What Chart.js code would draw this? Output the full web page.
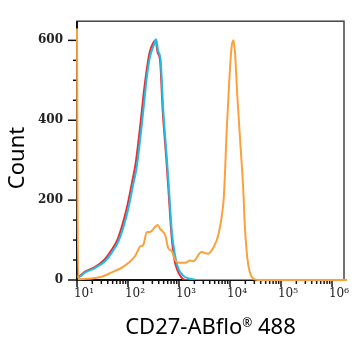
<!DOCTYPE html>
<html>
<head>
<meta charset="utf-8">
<script src="https://cdn.jsdelivr.net/npm/chart.js@4"></script>
<style>
  html, body { margin: 0; padding: 0; background: #fff; }
  #wrap { width: 360px; height: 350px; }
</style>
</head>
<body>
<div id="wrap"><canvas id="histo"></canvas></div>
<script>
// x is stored as log10 of the channel value, y is the event count
const redExp = [1.00, 1.03, 1.16, 1.35, 1.53, 1.66, 1.79, 1.89, 1.99, 2.08, 2.15, 2.25, 2.31, 2.36, 2.42, 2.48, 2.54, 2.58, 2.63, 2.68, 2.75, 2.79, 2.85, 2.90, 2.96, 3.04, 3.12, 6.30];
const redCount = [10, 9, 21, 32, 50, 72, 100, 138, 188, 245, 292, 398, 470, 520, 568, 590, 600, 570, 548, 425, 305, 232, 118, 58, 27, 8, 0, 0];

const blueExp = [1.00, 1.03, 1.16, 1.35, 1.55, 1.68, 1.81, 1.91, 2.01, 2.10, 2.17, 2.27, 2.33, 2.37, 2.43, 2.50, 2.55, 2.59, 2.64, 2.69, 2.76, 2.80, 2.86, 2.92, 2.98, 3.08, 3.22, 3.35, 6.30];
const blueCount = [9, 7, 19, 30, 47, 68, 96, 132, 181, 238, 282, 388, 461, 509, 558, 586, 603, 574, 550, 428, 307, 235, 120, 64, 31, 11, 3, 0, 0];

const orangeExp = [1.00, 1.02, 1.22, 1.48, 1.68, 1.88, 2.01, 2.14, 2.24, 2.30, 2.37, 2.43, 2.50, 2.58, 2.63, 2.73, 2.79, 2.86, 2.92, 2.99, 3.05, 3.12, 3.22, 3.28, 3.44, 3.57, 3.67, 3.77, 3.84, 3.88, 3.94, 3.99, 4.03, 4.07, 4.10, 4.14, 4.20, 4.26, 4.29, 4.34, 4.39, 4.46, 4.55, 6.30];
const orangeCount = [630, 2, 3, 8, 19, 31, 43, 60, 84, 88, 120, 120, 128, 138, 128, 112, 80, 72, 51, 43, 43, 43, 49, 47, 70, 66, 80, 112, 161, 210, 388, 509, 582, 600, 566, 469, 347, 226, 137, 55, 19, 3, 0, 0];

const xTickExp = [1, 2, 3, 4, 5, 6];
const xTickLabels = ['10¹', '10²', '10³', '10⁴', '10⁵', '10⁶'];
const yTickLabels = [0, 200, 400, 600];

const xMin = 10;
const xMax = Math.pow(10, 6.235);
const yMax = 648;

function toPoints(exps, counts) {
    return exps.map((e, i) => ({x: Math.pow(10, e), y: counts[i]}));
}

// frame and tick marks go under the curves, titles are drawn last
const histoDecor = {
    id: 'histoDecor',
    beforeDatasetsDraw(chart) {
        const {ctx, chartArea: a, scales: {x, y}} = chart;
        ctx.save();
        ctx.strokeStyle = '#444';
        ctx.lineWidth = 1.5;
        ctx.strokeRect(a.left, a.top, a.right - a.left, a.bottom - a.top);

        ctx.strokeStyle = '#111';
        ctx.lineWidth = 2;
        ctx.beginPath();
        ctx.moveTo(a.left, a.top);
        ctx.lineTo(a.left, a.bottom);
        ctx.lineTo(a.right, a.bottom);
        ctx.stroke();

        ctx.lineWidth = 1.5;
        x.ticks.forEach(t => {
            const px = x.getPixelForValue(t.value);
            const len = t.major ? 7 : 4;
            ctx.beginPath();
            ctx.moveTo(px, a.bottom);
            ctx.lineTo(px, a.bottom + len);
            ctx.stroke();
        });
        y.ticks.forEach(t => {
            const py = y.getPixelForValue(t.value);
            const len = t.major ? 9 : 4;
            ctx.beginPath();
            ctx.moveTo(a.left, py);
            ctx.lineTo(a.left - len, py);
            ctx.stroke();
        });
        ctx.restore();
    },
    afterDraw(chart) {
        const {ctx, chartArea: a} = chart;
        ctx.save();
        // y title
        ctx.fillStyle = '#000';
        ctx.font = '22px "Noto Sans"';
        ctx.textAlign = 'center';
        ctx.textBaseline = 'middle';
        ctx.save();
        ctx.translate(18, 158);
        ctx.rotate(-Math.PI / 2);
        ctx.fillText('Count', 0, 0);
        ctx.restore();

        // x title with a small raised ®
        const partA = 'CD27-ABflo', partB = '®', partC = ' 488';
        ctx.textAlign = 'left';
        ctx.textBaseline = 'alphabetic';
        ctx.font = '22px "Noto Sans"';
        const wA = ctx.measureText(partA).width;
        const wC = ctx.measureText(partC).width;
        ctx.font = '12px "Noto Sans"';
        const wB = ctx.measureText(partB).width;
        let tx = (a.left + a.right) / 2 - (wA + wB + wC) / 2;
        const base = 334;
        ctx.font = '22px "Noto Sans"';
        ctx.fillText(partA, tx, base);
        tx += wA;
        ctx.font = '12px "Noto Sans"';
        ctx.fillText(partB, tx, base - 7);
        tx += wB;
        ctx.font = '22px "Noto Sans"';
        ctx.fillText(partC, tx, base);
        ctx.restore();
    }
};

const ctx = document.getElementById('histo').getContext('2d');
const histoChart = new Chart(ctx, {
    type: 'line',
    data: {
        datasets: [
            {
                label: 'Orange',
                data: toPoints(orangeExp, orangeCount),
                borderColor: 'rgb(250, 160, 60)',
                borderWidth: 2,
                clip: 3,
                order: 1
            },
            {
                label: 'Blue',
                data: toPoints(blueExp, blueCount),
                borderColor: 'rgb(30, 190, 232)',
                borderWidth: 2,
                order: 2
            },
            {
                label: 'Red',
                data: toPoints(redExp, redCount),
                borderColor: 'rgb(235, 45, 50)',
                borderWidth: 2,
                order: 3
            }
        ]
    },
    options: {
        responsive: true,
        maintainAspectRatio: false,
        animation: false,
        elements: {
            point: { radius: 0 },
            line: { cubicInterpolationMode: 'monotone', fill: false }
        },
        layout: { padding: { top: 13, right: 16, left: 0, bottom: 0 } },
        plugins: {
            legend: { display: false },
            tooltip: { enabled: false }
        },
        scales: {
            x: {
                type: 'logarithmic',
                min: xMin,
                max: xMax,
                grid: { display: false, drawTicks: false },
                border: { display: false },
                afterBuildTicks(scale) {
                    const ticks = [];
                    for (let n = 1; n <= 6; n++) {
                        for (let m = 1; m <= 9; m++) {
                            const v = m * Math.pow(10, n);
                            if (v <= xMax) ticks.push({value: v, major: m === 1});
                        }
                    }
                    scale.ticks = ticks;
                },
                afterFit(scale) { scale.height = 70; },
                ticks: {
                    autoSkip: false,
                    maxRotation: 0,
                    padding: 7,
                    labelOffset: 7,
                    color: '#222',
                    font: { family: '"DejaVu Serif"', size: 12 },
                    callback(value) {
                        const i = xTickExp.findIndex(e => Math.abs(Math.pow(10, e) - value) < 1e-6 * value);
                        return i >= 0 ? xTickLabels[i] : '';
                    }
                }
            },
            y: {
                min: 0,
                max: yMax,
                grid: { display: false, drawTicks: false },
                border: { display: false },
                afterBuildTicks(scale) {
                    const ticks = [];
                    for (let v = 0; v <= 600; v += 50) ticks.push({value: v, major: yTickLabels.includes(v)});
                    scale.ticks = ticks;
                },
                afterFit(scale) { scale.width = 77; },
                ticks: {
                    autoSkip: false,
                    padding: 14,
                    color: '#222',
                    font: { family: '"DejaVu Serif"', size: 12, weight: 'bold' },
                    callback(value) {
                        return yTickLabels.includes(value) ? String(value) : '';
                    }
                }
            }
        }
    },
    plugins: [histoDecor]
});
</script>
</body>
</html>
